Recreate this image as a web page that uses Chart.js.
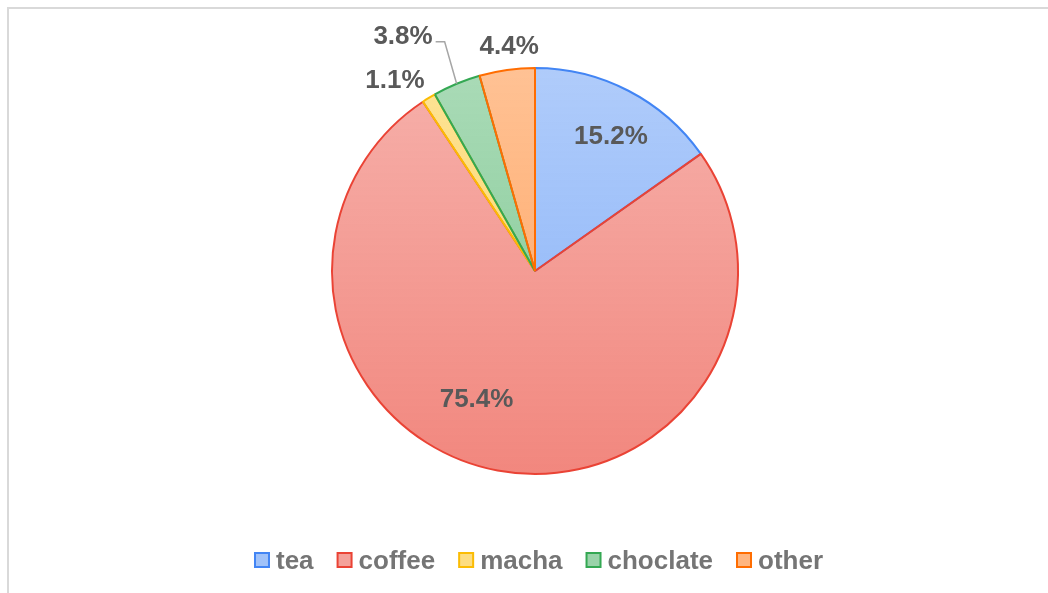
<!DOCTYPE html>
<html>
<head>
<meta charset="utf-8">
<title>Drinks</title>
<script src="https://cdn.jsdelivr.net/npm/chart.js@4.4.0/dist/chart.umd.min.js"></script>
<style>
  html, body { margin: 0; padding: 0; background: #fff; }
  #wrap { position: relative; width: 1048px; height: 593px; overflow: hidden; }
  #frame {
    position: absolute; left: 7px; top: 7px; right: 0; bottom: 0;
    border-top: 2px solid #d9d9d9; border-left: 2px solid #d9d9d9;
  }
  #pie { position: absolute; left: 0; top: 0; }
</style>
</head>
<body>
<div id="wrap">
  <div id="frame"></div>
  <canvas id="pie" width="1048" height="593"></canvas>
</div>
<script>
const drinks = ['tea', 'coffee', 'macha', 'choclate', 'other'];
const shares = [15.2, 75.4, 1.1, 3.8, 4.4];
const lineColors = ['#4285f4', '#ea4335', '#fbbc04', '#34a853', '#ff6d01'];

function rgba(hex, a) {
  const n = parseInt(hex.slice(1), 16);
  return `rgba(${(n >> 16) & 255}, ${(n >> 8) & 255}, ${n & 255}, ${a})`;
}

// light-to-darker vertical wash over the whole pie
function sliceFill(context) {
  const chart = context.chart;
  const area = chart.chartArea;
  if (!area) return null;
  const base = lineColors[context.dataIndex];
  const g = chart.ctx.createLinearGradient(0, area.top, 0, area.bottom);
  g.addColorStop(0, rgba(base, 0.42));
  g.addColorStop(1, rgba(base, 0.64));
  return g;
}

const clamp = (v, lo, hi) => Math.max(lo, Math.min(hi, v));

// percentage labels: big slices inside, small ones just past the rim
const sliceLabels = {
  id: 'sliceLabels',
  afterDatasetsDraw(chart, args, opts) {
    const ctx = chart.ctx;
    const arcs = chart.getDatasetMeta(0).data;
    ctx.save();
    ctx.font = opts.font;
    ctx.fillStyle = opts.color;
    ctx.textBaseline = 'middle';
    arcs.forEach((arc, i) => {
      const p = arc.getProps(['x', 'y', 'startAngle', 'endAngle', 'outerRadius'], true);
      const mid = (p.startAngle + p.endAngle) / 2;
      const cos = Math.cos(mid), sin = Math.sin(mid);
      const text = shares[i].toFixed(1) + '%';
      const w = ctx.measureText(text).width;
      const h = opts.lineHeight;
      const nudge = opts.nudge[i] || [0, 0];

      if (shares[i] >= opts.insideMin) {
        const r = p.outerRadius * opts.insideRatio;
        ctx.textAlign = 'center';
        ctx.fillText(text, p.x + cos * r + nudge[0], p.y + sin * r + nudge[1]);
        return;
      }

      const leader = opts.leaders[i];
      if (leader) {
        const ex = p.x + cos * p.outerRadius, ey = p.y + sin * p.outerRadius;
        const bx = ex + leader.dx, by = ey + leader.dy;
        ctx.save();
        ctx.strokeStyle = opts.leaderColor;
        ctx.lineWidth = 1.5;
        ctx.beginPath();
        ctx.moveTo(ex, ey);
        ctx.lineTo(bx, by);
        ctx.lineTo(bx - leader.tail, by);
        ctx.stroke();
        ctx.restore();
        ctx.textAlign = 'right';
        ctx.fillText(text, bx - leader.tail - 3, by - 5);
        return;
      }

      const r = p.outerRadius + opts.gap;
      const px = p.x + cos * r, py = p.y + sin * r;
      ctx.textAlign = 'center';
      ctx.fillText(text,
        px + (w / 2) * clamp(cos * 2, -1, 1) + nudge[0],
        py + (h / 2) * clamp(sin * 2, -1, 1) + nudge[1]);
    });
    ctx.restore();
  }
};

// legend row under the pie
const bottomLegend = {
  id: 'bottomLegend',
  afterDraw(chart, args, opts) {
    const ctx = chart.ctx;
    ctx.save();
    ctx.font = opts.font;
    ctx.textBaseline = 'alphabetic';
    ctx.textAlign = 'left';
    const widths = drinks.map(d => ctx.measureText(d).width);
    const total = widths.reduce((s, w) => s + opts.box + opts.textGap + w, 0) +
      opts.itemGap * (drinks.length - 1);
    let x = opts.centerX - total / 2;
    drinks.forEach((d, i) => {
      const top = opts.boxMid - opts.box / 2;
      ctx.fillStyle = rgba(lineColors[i], 0.5);
      ctx.fillRect(x, top, opts.box, opts.box);
      ctx.strokeStyle = lineColors[i];
      ctx.lineWidth = 2;
      ctx.strokeRect(x, top, opts.box, opts.box);
      x += opts.box + opts.textGap;
      ctx.fillStyle = opts.color;
      ctx.fillText(d, x, opts.baseline);
      x += widths[i] + opts.itemGap;
    });
    ctx.restore();
  }
};

new Chart(document.getElementById('pie'), {
  type: 'pie',
  data: {
    labels: drinks,
    datasets: [{
      data: shares,
      backgroundColor: sliceFill,
      borderColor: lineColors,
      borderWidth: 2
    }]
  },
  options: {
    responsive: false,
    animation: false,
    layout: { padding: { top: 67, bottom: 118, left: 235, right: 213 } },
    plugins: {
      legend: { display: false },
      tooltip: { enabled: false },
      sliceLabels: {
        font: 'bold 26px "Liberation Sans", Arial, sans-serif',
        color: '#595959',
        lineHeight: 22,
        insideMin: 10,
        insideRatio: 0.76,
        nudge: { 0: [5, 3], 1: [-30, -23], 2: [2, 4], 4: [12, 0] },
        gap: 12,
        leaderColor: '#a6a6a6',
        leaders: { 3: { dx: -12, dy: -42, tail: 9 } }
      },
      bottomLegend: {
        font: 'bold 26px "Liberation Sans", Arial, sans-serif',
        color: '#757575',
        baseline: 569,
        boxMid: 560,
        centerX: 539,
        box: 14,
        textGap: 7,
        itemGap: 24
      }
    }
  },
  plugins: [sliceLabels, bottomLegend]
});
</script>
</body>
</html>
